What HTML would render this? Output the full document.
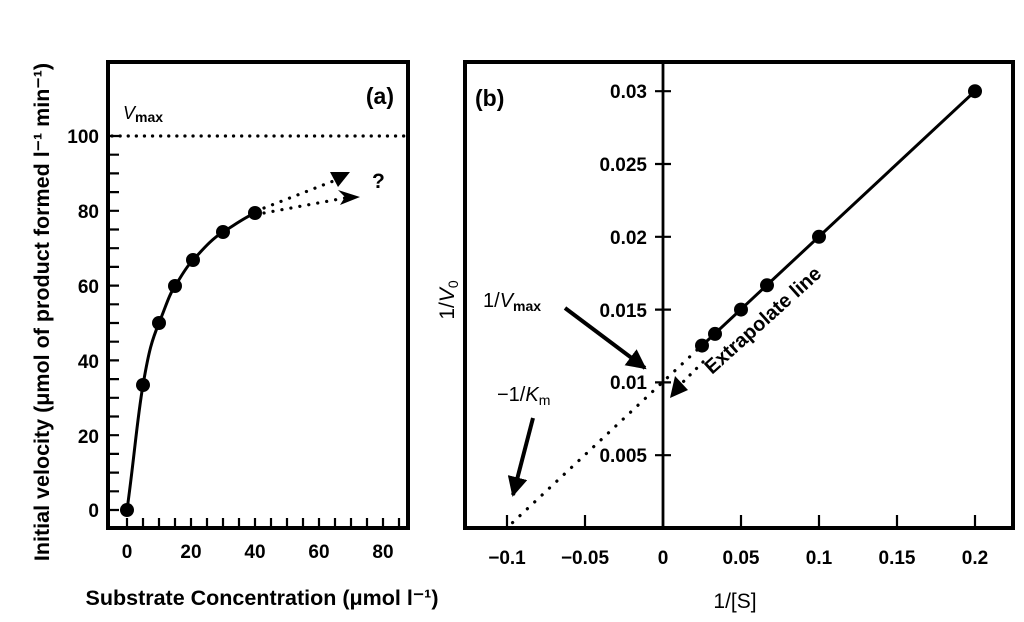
<!DOCTYPE html>
<html><head><meta charset="utf-8"><style>
html,body{margin:0;padding:0;background:#fff;}
svg{display:block;font-family:"Liberation Sans",sans-serif;font-weight:bold;}
</style></head><body>
<svg width="1024" height="622" viewBox="0 0 1024 622" xmlns="http://www.w3.org/2000/svg">
<defs>
<marker id="ah" viewBox="0 0 10 10" refX="9" refY="5" markerWidth="5" markerHeight="5" orient="auto"><path d="M0,0 L10,5 L0,10 Z" fill="#000"/></marker>
</defs>
<!-- Panel a -->
<rect x="108" y="62" width="300" height="466" fill="none" stroke="#000" stroke-width="4"/>
<g stroke="#000" stroke-width="2.2">
<path d="M108,510h11M108,491.3h11M108,472.6h11M108,453.9h11M108,435.2h11M108,416.5h11M108,397.8h11M108,379.1h11M108,360.4h11M108,341.7h11M108,323h11M108,304.3h11M108,285.6h11M108,266.9h11M108,248.2h11M108,229.5h11M108,210.8h11M108,192.1h11M108,173.4h11M108,154.7h11M108,136h11"/>
<path d="M127,528v-10M143,528v-10M159,528v-10M175,528v-10M191,528v-10M207,528v-10M223,528v-10M239,528v-10M255,528v-10M271,528v-10M287,528v-10M303,528v-10M319,528v-10M335,528v-10M351,528v-10M367,528v-10M383,528v-10M399,528v-10"/>
</g>
<g font-size="19" text-anchor="end">
<text x="99" y="143">100</text><text x="99" y="218">80</text><text x="99" y="293">60</text><text x="99" y="368">40</text><text x="99" y="443">20</text><text x="99" y="517">0</text>
</g>
<g font-size="19" text-anchor="middle">
<text x="127" y="558">0</text><text x="191" y="558">20</text><text x="255" y="558">40</text><text x="319" y="558">60</text><text x="383" y="558">80</text>
</g>
<line x1="112" y1="136" x2="406" y2="136" stroke="#000" stroke-width="3.2" stroke-dasharray="0.1 8" stroke-linecap="round"/>
<text x="123" y="119" font-size="18" font-weight="normal"><tspan font-style="italic">V</tspan><tspan font-size="14" dy="3" font-weight="bold">max</tspan></text>
<text x="394" y="104" font-size="23" text-anchor="end">(a)</text>
<path d="M127,510 C134,460 137,420 143,385 S152,340 159,323 S169,295 175,286 S186,267 193,260 S210,240 223,232 S244,218 255,213" fill="none" stroke="#000" stroke-width="3"/>
<g fill="#000"><circle cx="127" cy="510" r="7"/><circle cx="143" cy="385" r="7"/><circle cx="159" cy="323" r="7"/><circle cx="175" cy="286" r="7"/><circle cx="193" cy="260" r="7"/><circle cx="223" cy="232" r="7"/><circle cx="255" cy="213" r="7"/></g>
<g stroke="#000" stroke-width="3.2" stroke-dasharray="0.1 9" stroke-linecap="round" fill="none">
<line x1="264" y1="208" x2="336" y2="180"/>
<line x1="264" y1="213" x2="345" y2="198"/>
</g>
<path d="M330,172 L350,172 L338,187 Z" fill="#000"/>
<path d="M338,190 L360,197 L340,205 L345,197 Z" fill="#000"/>
<text x="372" y="188" font-size="21">?</text>
<text transform="translate(49,312) rotate(-90)" font-size="21.5" text-anchor="middle">Initial velocity (μmol of product formed l⁻¹ min⁻¹)</text>
<text x="262" y="605" font-size="21.5" text-anchor="middle">Substrate Concentration (μmol l⁻¹)</text>

<!-- Panel b -->
<rect x="465" y="62" width="548" height="466" fill="none" stroke="#000" stroke-width="4"/>
<line x1="663" y1="62" x2="663" y2="528" stroke="#000" stroke-width="2.8"/>
<g stroke="#000" stroke-width="2.2">
<path d="M655,91.2h16M655,164h16M655,236.8h16M655,309.6h16M655,382.4h16M655,455.2h16"/>
<path d="M507,528v-13M585,528v-13M741,528v-13M819,528v-13M897,528v-13M975,528v-13"/>
</g>
<g font-size="19" text-anchor="end">
<text x="647" y="98">0.03</text><text x="647" y="171">0.025</text><text x="647" y="244">0.02</text><text x="647" y="317">0.015</text><text x="647" y="389">0.01</text><text x="647" y="462">0.005</text>
</g>
<g font-size="19" text-anchor="middle">
<text x="507" y="564">−0.1</text><text x="585" y="564">−0.05</text><text x="663" y="564">0</text><text x="741" y="564">0.05</text><text x="819" y="564">0.1</text><text x="897" y="564">0.15</text><text x="975" y="564">0.2</text>
</g>
<text x="735" y="608" font-size="21" text-anchor="middle" font-weight="normal">1/[S]</text>
<text transform="translate(454,300) rotate(-90)" font-size="21" text-anchor="middle" font-weight="normal">1/<tspan font-style="italic">V</tspan><tspan font-size="14" dy="4">0</tspan></text>
<text x="475" y="106" font-size="23">(b)</text>
<line x1="702" y1="345.6" x2="975" y2="91.2" stroke="#000" stroke-width="3"/>
<line x1="697" y1="350" x2="510" y2="525" stroke="#000" stroke-width="3.2" stroke-dasharray="0.1 10" stroke-linecap="round"/>
<g fill="#000"><circle cx="975" cy="91.2" r="7"/><circle cx="819" cy="236.8" r="7"/><circle cx="767" cy="285.3" r="7"/><circle cx="741" cy="309.6" r="7"/><circle cx="715" cy="333.9" r="7"/><circle cx="702" cy="345.6" r="7"/></g>
<line x1="703" y1="362" x2="679" y2="386" stroke="#000" stroke-width="3.2" stroke-dasharray="0.1 9" stroke-linecap="round"/>
<path d="M670,398 L675,376 L688,390 Z" fill="#000"/>
<text transform="translate(712,375) rotate(-42)" font-size="20">Extrapolate line</text>
<text x="483" y="307" font-size="20" font-weight="normal">1/<tspan font-style="italic">V</tspan><tspan font-size="14" dy="4" font-weight="bold">max</tspan></text>
<line x1="565" y1="308" x2="645" y2="368" stroke="#000" stroke-width="4" marker-end="url(#ah)"/>
<text x="497" y="401" font-size="20" font-weight="normal">−1/<tspan font-style="italic">K</tspan><tspan font-size="14" dy="4">m</tspan></text>
<line x1="533" y1="418" x2="513" y2="495" stroke="#000" stroke-width="4" marker-end="url(#ah)"/>
</svg>
</body></html>
